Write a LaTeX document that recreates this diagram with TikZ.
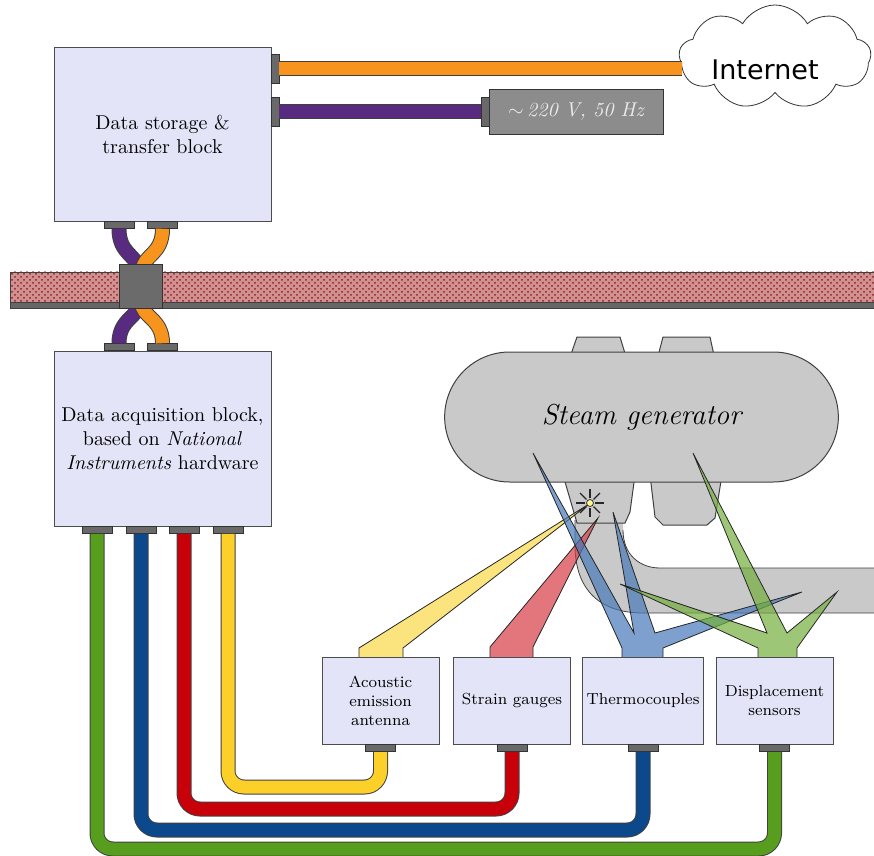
\documentclass[tikz,border=0pt]{standalone}
\usepackage{amsmath,amssymb}
\usepackage{fontspec}
\newfontfamily\netfont{DejaVu Sans}
\usepackage{tikz}
\usetikzlibrary{positioning, patterns, shapes.geometric, shapes.misc, shapes.symbols, calc}

\definecolor{boxfill}{RGB}{228,228,248}
\definecolor{sgfill}{RGB}{201,201,201}
\definecolor{portfill}{RGB}{105,105,105}
\definecolor{corange}{RGB}{246,148,30}
\definecolor{cpurple}{RGB}{88,42,128}
\definecolor{cgreen}{RGB}{88,158,30}
\definecolor{cblue}{RGB}{12,72,140}
\definecolor{cred}{RGB}{200,0,10}
\definecolor{cyellow}{RGB}{252,208,40}
\definecolor{byellow}{RGB}{250,215,70}
\definecolor{bred}{RGB}{215,60,70}
\definecolor{bblue}{RGB}{70,120,185}
\definecolor{bgreen}{RGB}{115,175,60}
\definecolor{wallfill}{RGB}{210,145,145}
\definecolor{walldots}{RGB}{140,30,35}

\tikzset{
    block/.style={draw=black!70, fill=boxfill, align=center, inner sep=2pt},
    bigblock/.style={block, minimum width=108.5pt, minimum height=87pt},
    sensor/.style={block, font=\footnotesize, minimum width=58.5pt, minimum height=43.5pt},
    port/.style={draw=black!80, fill=portfill, inner sep=0pt, minimum width=15pt, minimum height=3.5pt},
    sideport/.style={port, minimum width=4pt, minimum height=14.5pt},
    cable/.style={draw=black!75, line width=0.5pt, double=#1, double distance=6.5pt, rounded corners=8pt},
    beam/.style={draw=black!85, line width=0.4pt, fill=#1, fill opacity=0.7, line join=miter},
    vessel/.style={draw=black!75, fill=sgfill, line width=0.5pt},
}

\begin{document}
\begin{tikzpicture}[x=0.5pt, y=-0.5pt]
    \useasboundingbox (0,0) rectangle (874,856);

    % blocks
    \node[bigblock] (store) at (162.5,134) {Data storage \&\\transfer block};
    \node[bigblock, minimum height=87.5pt] (acq) at (162.5,438.5) {Data acquisition block,\\based on \textit{National}\\\textit{Instruments} hardware};

    \node[sideport] (sNet) at (275,68.5) {};
    \node[sideport] (sPow) at (275,112) {};
    \node[port, anchor=north] (sA) at (119,221) {};
    \node[port, anchor=north] (sB) at (162.5,221) {};
    \node[port, anchor=south] (aA) at (119,351) {};
    \node[port, anchor=south] (aB) at (162.5,351) {};
    \node[port, anchor=north] (aG) at (97,526) {};
    \node[port, anchor=north] (aBl) at (141,526) {};
    \node[port, anchor=north] (aR) at (184,526) {};
    \node[port, anchor=north] (aY) at (228,526) {};

    % mains and internet
    \node[draw=black!80, fill=black!45, minimum width=87pt, minimum height=22.5pt, text=black!8, font=\itshape] (mains) at (576,111.5) {$\sim$\,220 V, 50 Hz};
    \node[sideport] (mP) at (485.5,112) {};
    \node[cloud, draw=black!80, fill=white, cloud puffs=9, cloud puff arc=120, minimum width=96pt, minimum height=52pt] (net) at (775,57) {};
    \node[font=\netfont\fontsize{13.5}{16}\selectfont] (netlbl) at (765,70) {Internet};

    \draw[cable=corange] (sNet.east) -- ($(sNet.east -| net.west)+(3,0)$);
    \draw[cable=cpurple] (sPow.east) -- (mP.west);

    % wall with the cable sleeve
    \fill[wallfill] (10,272) rectangle (880,302);
    \fill[pattern=crosshatch dots, pattern color=walldots] (10,272) rectangle (880,302);
    \draw[black!75] (10,272) rectangle (880,302);
    \filldraw[draw=black!75, fill=black!60] (10,302) rectangle (880,308);

    \draw[cable=cpurple] (sA.south) .. controls (119,255) and (138,255) .. (139,286) .. controls (140,317) and (119,318) .. (aA.north);
    \draw[cable=corange] (sB.south) .. controls (162.5,255) and (143,255) .. (142,286) .. controls (141,317) and (162.5,318) .. (aB.north);
    \node[draw=black!80, fill=black!58, minimum width=21.5pt, minimum height=22pt] (sleeve) at (140.5,286) {};

    % steam generator
    \fill[sgfill] (575,520) -- (575,545) .. controls (575,590) and (600,613) .. (643,613) -- (880,613) -- (880,568) -- (660,568) .. controls (640,568) and (623,555) .. (623,530) -- (623,520) -- cycle;
    \draw[black!75] (575,520) -- (575,545) .. controls (575,590) and (600,613) .. (643,613) -- (880,613);
    \draw[black!75] (880,568) -- (660,568) .. controls (640,568) and (623,555) .. (623,530);
    \filldraw[vessel] (569,360) -- (577,337) -- (620,337) -- (627,360) -- cycle;
    \filldraw[vessel] (657,360) -- (663,337) -- (710,337) -- (715,360) -- cycle;
    \filldraw[vessel] (563,475) -- (577,523) -- (625,523) -- (630,512) -- (635,475) -- cycle;
    \filldraw[vessel] (650,475) -- (655,517) -- (663,525) -- (707,525) -- (715,518) -- (722,475) -- cycle;
    \node[vessel, rounded rectangle, minimum width=203.5pt, minimum height=65pt, font=\Large\itshape] (sgen) at (641.5,417) {Steam generator};

    % sensor beams
    \filldraw[beam=byellow] (359,660) -- (359,648) -- (589,504) -- (403,648) -- (403,660) -- cycle;
    \filldraw[beam=bred] (490,660) -- (490,647) -- (598,518) -- (533,647) -- (533,660) -- cycle;
    \filldraw[beam=bblue] (622,660) -- (622,648) -- (533,453) -- (634,633) -- (613,512) -- (655,633) -- (802,592) -- (663,648) -- (663,660) -- cycle;
    \filldraw[beam=bgreen] (758,660) -- (758,648) -- (620,584) -- (767,633) -- (693,453) -- (787,633) -- (837,592) -- (797,648) -- (797,660) -- cycle;

    \node[circle, draw=black!80, fill=yellow!45, inner sep=0pt, minimum size=3.5pt] (ae-src) at (590,503) {};
    \foreach \a in {0,45,...,315}
        \draw[line width=0.7pt, black!85] (ae-src) ++(\a:5) -- ++(\a:9);

    % sensors
    \node[sensor] (ae) at (380.5,700.5) {Acoustic\\emission\\antenna};
    \node[sensor] (sg) at (512,700.5) {Strain gauges};
    \node[sensor] (tc) at (643,700.5) {Thermocouples};
    \node[sensor] (ds) at (774.5,700.5) {Displacement\\sensors};
    \node[port, anchor=north] (aeP) at (ae.south) {};
    \node[port, anchor=north] (sgP) at (sg.south) {};
    \node[port, anchor=north] (tcP) at (tc.south) {};
    \node[port, anchor=north] (dsP) at (ds.south) {};

    % cables to the sensors
    \coordinate (lvY) at (0,787);
    \coordinate (lvR) at (0,809);
    \coordinate (lvB) at (0,830);
    \coordinate (lvG) at (0,849);
    \draw[cable=cgreen] (aG.south) |- (dsP.south |- lvG) -- (dsP.south);
    \draw[cable=cblue] (aBl.south) |- (tcP.south |- lvB) -- (tcP.south);
    \draw[cable=cred] (aR.south) |- (sgP.south |- lvR) -- (sgP.south);
    \draw[cable=cyellow] (aY.south) |- (aeP.south |- lvY) -- (aeP.south);
\end{tikzpicture}
\end{document}
